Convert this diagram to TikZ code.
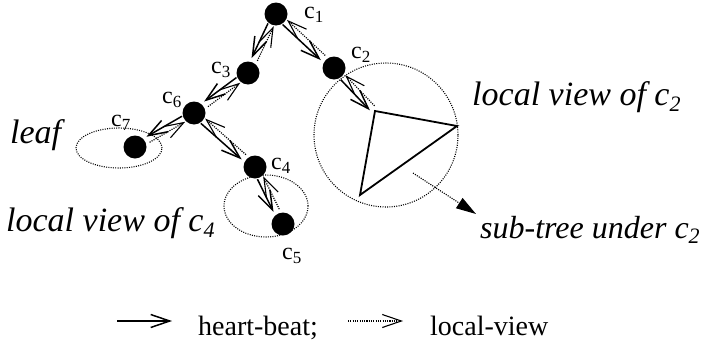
\documentclass[tikz,border=0pt]{standalone}
\usepackage{fontspec}
\setmainfont{Liberation Serif}
\usetikzlibrary{calc,arrows.meta,shapes.geometric}
\newcommand\lbl[2]{{\fontsize{24}{24}\selectfont #1\raisebox{-0.2em}{\fontsize{17}{17}\selectfont #2}}}
\newcommand\itsz{\fontsize{34}{34}\selectfont\itshape}
\newcommand\itszs{\fontsize{32}{32}\selectfont\itshape}
\newcommand\itsub[1]{\raisebox{-0.18em}{\fontsize{22}{22}\selectfont\itshape #1}}
\newcommand\legsz{\fontsize{28}{28}\selectfont}
\newcommand\edgepair[4]{%
  \coordinate (s) at ($(#1)!#3!(#2)$);
  \coordinate (e) at ($(#2)!#4!(#1)$);
  \draw[hb] ($(s)!3.2pt!-90:(e)$) -- ($(e)!3.2pt!90:(s)$);
  \coordinate (s2) at ($(#2)!#4!(#1)$);
  \coordinate (e2) at ($(#1)!#3!(#2)$);
  \draw[lv] ($(s2)!3.2pt!-90:(e2)$) -- ($(e2)!3.2pt!90:(s2)$);
}
\begin{document}
\begin{tikzpicture}[x=1pt,y=-1pt,
  dot/.style={circle,fill=black,minimum size=23pt,inner sep=0pt},
  hb/.style={line width=1.5pt,-{Straight Barb[length=19pt,width=13pt]}},
  lv/.style={line width=1.2pt,dash pattern=on 1.1pt off 1.2pt,-{Straight Barb[length=19pt,width=13pt,line width=1.1pt]}},
  zone/.style={draw,line width=1.1pt,dash pattern=on 1pt off 1.3pt,inner sep=0pt},
  lab/.style={anchor=base west,inner sep=0pt},
]
\useasboundingbox (0,0) rectangle (709,343);
% local-view zones
\node[zone,circle,minimum size=144pt] (z2) at (386,135) {};
\node[zone,ellipse,minimum width=86pt,minimum height=40pt] (z7) at (119,148) {};
\node[zone,ellipse,minimum width=84pt,minimum height=62pt] (z4) at (266,206) {};
% sub-tree triangle
\coordinate (ta) at (375,111);
\coordinate (tb) at (457,126);
\coordinate (tc) at (360,195);
\draw[line width=1.8pt,line join=miter] (ta) -- (tb) -- (tc) -- cycle;
% processes
\node[dot] (c1) at (276,14) {};
\node[dot] (c2) at (334,68) {};
\node[dot] (c3) at (248,73) {};
\node[dot] (c6) at (194,113) {};
\node[dot] (c7) at (135,147) {};
\node[dot] (c4) at (255,167) {};
\node[dot] (c5) at (283,224) {};
% connectors
\edgepair{c1}{c3}{12pt}{15pt}
\edgepair{c1}{c2}{12pt}{15pt}
\edgepair{c3}{c6}{12pt}{15pt}
\edgepair{c6}{c7}{12pt}{15pt}
\edgepair{c6}{c4}{12pt}{15pt}
\edgepair{c4}{c5}{12pt}{15pt}
\edgepair{c2}{ta}{13pt}{4pt}
% sub-tree arrow
\coordinate (st0) at (413,173);
\coordinate (st1) at (476,214);
\draw[line width=1.1pt,dash pattern=on 1.1pt off 1.2pt,-{Triangle[length=20pt,width=12pt]}] (st0) -- (st1);
% labels
\node[lab] (l1) at (304,18) {\lbl{c}{1}};
\node[lab] (l2) at (351,58) {\lbl{c}{2}};
\node[lab] (l3) at (211,73) {\lbl{c}{3}};
\node[lab] (l6) at (162,103) {\lbl{c}{6}};
\node[lab] (l7) at (111,126) {\lbl{c}{7}};
\node[lab] (l4) at (271,169) {\lbl{c}{4}};
\node[lab] (l5) at (282,259) {\lbl{c}{5}};
\node[lab] (tleaf) at (10,143) {\itsz leaf};
\node[lab] (tv4) at (6,231) {\itsz local view of c\itsub{4}};
\node[lab] (tv2) at (472,105) {\itsz local view of c\itsub{2}};
\node[lab] (tst) at (480,238) {\itszs sub-tree under c\itsub{2}};
% legend
\coordinate (hb0) at (117,321);
\coordinate (hb1) at (172,321);
\draw[hb] (hb0) -- (hb1);
\node[lab] (hbt) at (198,335) {\legsz heart-beat;};
\coordinate (lv0) at (348,321);
\coordinate (lv1) at (403,321);
\draw[lv] (lv0) -- (lv1);
\node[lab] (lvt) at (430,335) {\legsz local-view};
\end{tikzpicture}
\end{document}
